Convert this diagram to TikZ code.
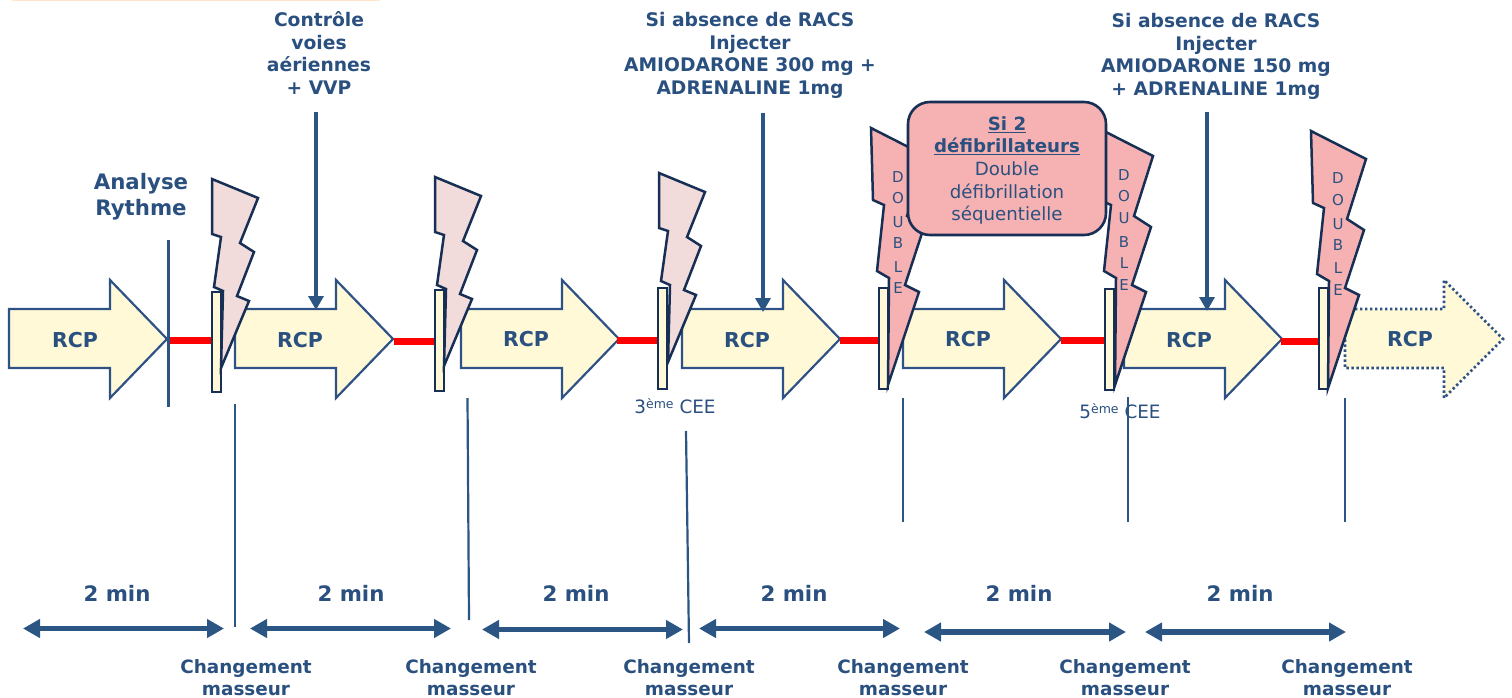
\documentclass[tikz,border=0pt]{standalone}
\usepackage{fontspec}
\setmainfont{DejaVu Sans}
\usetikzlibrary{arrows.meta}
\definecolor{txt}{HTML}{2A5080}
\definecolor{edge}{HTML}{2F5286}
\definecolor{navy}{HTML}{172F55}
\definecolor{cream}{HTML}{FFF9D8}
\definecolor{palebolt}{HTML}{F2DCDB}
\definecolor{pinkbolt}{HTML}{F6B2B2}
\definecolor{redbar}{HTML}{FF0000}
\definecolor{spanblue}{HTML}{2B5582}
\tikzset{
  big arrow/.style={draw=edge,fill=cream,line width=2.2pt,line join=miter},
  dotted arrow/.style={draw=edge,fill=cream,line width=2.6pt,dash pattern=on 2.4pt off 2.6pt},
  pale bolt/.style={draw=navy,fill=palebolt,line width=2.5pt,line join=miter},
  pink bolt/.style={draw=navy,fill=pinkbolt,line width=2.5pt,line join=miter},
  electrode/.style={draw=navy,fill=cream,line width=2.4pt},
  pause bar/.style={draw=redbar,line width=7pt},
  rule line/.style={draw=spanblue,line width=2.2pt},
  heavy rule/.style={draw=spanblue,line width=3.2pt},
  drop arrow/.style={draw=spanblue,line width=3.4pt,-{Triangle[length=14pt,width=15pt]}},
  span arrow/.style={draw=spanblue,line width=5.6pt,{Triangle[length=17pt,width=18pt]}-{Triangle[length=17pt,width=18pt]}},
  head text/.style={text=txt,align=center,inner sep=0pt,font=\fontsize{18.7}{22.4}\selectfont\bfseries},
  big text/.style={text=txt,align=center,inner sep=0pt,font=\fontsize{21.3}{26}\selectfont\bfseries},
  rcp text/.style={text=txt,inner sep=0pt,font=\fontsize{20.5}{24}\selectfont\bfseries},
  min text/.style={text=txt,inner sep=0pt,font=\fontsize{21.3}{24}\selectfont\bfseries},
  swap text/.style={text=txt,align=center,inner sep=0pt,font=\fontsize{18.4}{22}\selectfont\bfseries},
  note text/.style={text=txt,inner sep=0pt,font=\fontsize{18.4}{20}\selectfont},
  letter text/.style={text=txt,inner sep=0pt,font=\fontsize{15}{16}\selectfont},
  callout/.style={draw=navy,fill=pinkbolt,line width=2.6pt,rounded corners=22pt},
  callout text/.style={text=txt,align=center,inner sep=0pt,font=\fontsize{18.2}{22.7}\selectfont},
}
\newcommand{\rcpshape}[3]{% style, x, head top y
  \draw[#1,shift={(#2,#3)}] (0,29) -- (101,29) -- (101,0) -- (158,59) -- (101,118) -- (101,88) -- (0,88) -- cycle;}
\newcommand{\smallbolt}[2]{%
  \draw[pale bolt,shift={(#1,#2)}] (0,0) -- (46,19) -- (28,64) -- (42,73) -- (25,117) -- (37,122) -- (9,189) -- (11,112) -- (2,108) -- (9,58) -- (0,55) -- cycle;}
\newcommand{\bigbolt}[2]{%
  \draw[pink bolt,shift={(#1,#2)}] (0,0) -- (55,28) -- (36,88) -- (53,99) -- (34,157) -- (48,164) -- (17,257) -- (18,150) -- (6,143) -- (13,77) -- (2,72) -- cycle;}
\newcommand{\doubleword}[7]{% x and six y
  \node[letter text] at (#1,#2) {D};
  \node[letter text] at (#1,#3) {O};
  \node[letter text] at (#1,#4) {U};
  \node[letter text] at (#1,#5) {B};
  \node[letter text] at (#1,#6) {L};
  \node[letter text] at (#1,#7) {E};}
\begin{document}
\begin{tikzpicture}[x=1pt,y=-1pt]
\useasboundingbox (0,0) rectangle (1512,698);
\fill[fill=orange!20!white] (12,0) rectangle (380,1.2);
% RCP arrows
\rcpshape{big arrow}{9}{280}
\rcpshape{big arrow}{235}{280}
\rcpshape{big arrow}{461}{280}
\rcpshape{big arrow}{682}{280}
\rcpshape{big arrow}{903}{280}
\rcpshape{big arrow}{1124}{280}
\fill[cream,shift={(1345,280)}] (0,29) -- (99,29) -- (99,0) -- (158,59) -- (99,118) -- (99,88) -- (0,88) -- cycle;
\draw[dotted arrow,shift={(1345,280)}] (0,29) -- (99,29) -- (99,0) -- (158,59) -- (99,118) -- (99,88) -- (0,88) -- cycle;
\node[rcp text] (r1) at (75,340) {RCP};
\node[rcp text] (r2) at (300,340) {RCP};
\node[rcp text] (r3) at (526,339) {RCP};
\node[rcp text] (r4) at (747,340) {RCP};
\node[rcp text] (r5) at (968,339) {RCP};
\node[rcp text] (r6) at (1189,340) {RCP};
\node[rcp text] (r7) at (1410,339) {RCP};
% pauses
\coordinate (p1a) at (170,340.5); \coordinate (p1b) at (211,340.5);
\coordinate (p2a) at (394,341);   \coordinate (p2b) at (435,341);
\coordinate (p3a) at (617,340);   \coordinate (p3b) at (658,340);
\coordinate (p4a) at (840,340.5); \coordinate (p4b) at (880,340.5);
\coordinate (p5a) at (1061,340.5);\coordinate (p5b) at (1105,340.5);
\coordinate (p6a) at (1281,341);  \coordinate (p6b) at (1320,341);
\foreach \n in {1,...,6} \draw[pause bar] (p\n a) -- (p\n b);
% electrodes and bolts
\draw[electrode] (212,292) rectangle (221,392);
\draw[electrode] (435,290) rectangle (444,391);
\draw[electrode] (658,288) rectangle (667,389);
\draw[electrode] (879,288) rectangle (888,389);
\draw[electrode] (1105,289) rectangle (1114,390);
\draw[electrode] (1319,288) rectangle (1328,389);
\smallbolt{212}{179}
\smallbolt{435}{177}
\smallbolt{659}{173}
\bigbolt{871}{128}
\bigbolt{1098}{128}
\bigbolt{1311}{131}
\doubleword{898}{177}{198}{222}{243}{267}{288}
\doubleword{1124}{175}{196}{218}{242}{263}{285}
\doubleword{1338}{178}{200}{224}{245}{268}{290}
% callout
\draw[callout] (908,102) rectangle (1106,235);
\node[callout text] (box) at (1007,170.5) {\textbf{\underline{Si 2}}\\\textbf{\underline{défibrillateurs}}\\Double\\défibrillation\\séquentielle};
% analyse
\node[big text] (ana) at (141,197) {Analyse\\Rythme};
\coordinate (a1) at (168.5,240); \coordinate (a2) at (168.5,407);
\draw[heavy rule] (a1) -- (a2);
% top labels and arrows
\node[head text] (t1) at (319,53) {Contrôle\\voies\\aériennes\\+ VVP};
\node[head text] (t2) at (750,55.5) {Si absence de RACS\\Injecter\\AMIODARONE 300 mg +\\ADRENALINE 1mg};
\node[head text] (t3) at (1216,56.5) {Si absence de RACS\\Injecter\\AMIODARONE 150 mg\\+ ADRENALINE 1mg};
\coordinate (d1a) at (316,112);  \coordinate (d1b) at (316,310);
\coordinate (d2a) at (763,113);  \coordinate (d2b) at (763,312);
\coordinate (d3a) at (1207,112); \coordinate (d3b) at (1207,311);
\draw[drop arrow] (d1a) -- (d1b);
\draw[drop arrow] (d2a) -- (d2b);
\draw[drop arrow] (d3a) -- (d3b);
% CEE notes
\node[note text] (c3) at (675,406) {3\raisebox{5pt}{\fontsize{12.5}{13}\selectfont ème} CEE};
\node[note text] (c5) at (1120,411) {5\raisebox{5pt}{\fontsize{12.5}{13}\selectfont ème} CEE};
% masseur lines
\coordinate (m1a) at (235,404);  \coordinate (m1b) at (235,627);
\coordinate (m2a) at (467.5,398);\coordinate (m2b) at (469,620);
\coordinate (m3a) at (686,431);  \coordinate (m3b) at (689,643);
\coordinate (m4a) at (903,398);  \coordinate (m4b) at (903,522);
\coordinate (m5a) at (1128,397); \coordinate (m5b) at (1128,522);
\coordinate (m6a) at (1345,398); \coordinate (m6b) at (1345,522);
\foreach \n in {1,...,6} \draw[rule line] (m\n a) -- (m\n b);
% spans
\coordinate (s1a) at (23,628.5);  \coordinate (s1b) at (224,628.5);
\coordinate (s2a) at (250,628.5); \coordinate (s2b) at (451,628.5);
\coordinate (s3a) at (482,629.5); \coordinate (s3b) at (683,629.5);
\coordinate (s4a) at (699,628.5); \coordinate (s4b) at (900,628.5);
\coordinate (s5a) at (924,632);   \coordinate (s5b) at (1126,632);
\coordinate (s6a) at (1145,632);  \coordinate (s6b) at (1346,632);
\foreach \n in {1,...,6} \draw[span arrow] (s\n a) -- (s\n b);
\node[min text] (n1) at (117,593) {2 min};
\node[min text] (n2) at (351,593) {2 min};
\node[min text] (n3) at (576,593) {2 min};
\node[min text] (n4) at (794,593) {2 min};
\node[min text] (n5) at (1019,593) {2 min};
\node[min text] (n6) at (1240,593) {2 min};
\node[swap text] (c1) at (246,678) {Changement\\masseur};
\node[swap text] (c2) at (471,678) {Changement\\masseur};
\node[swap text] (c3b) at (689,678) {Changement\\masseur};
\node[swap text] (c4) at (903,678) {Changement\\masseur};
\node[swap text] (c5b) at (1125,678) {Changement\\masseur};
\node[swap text] (c6) at (1347,678) {Changement\\masseur};
\end{tikzpicture}
\end{document}
